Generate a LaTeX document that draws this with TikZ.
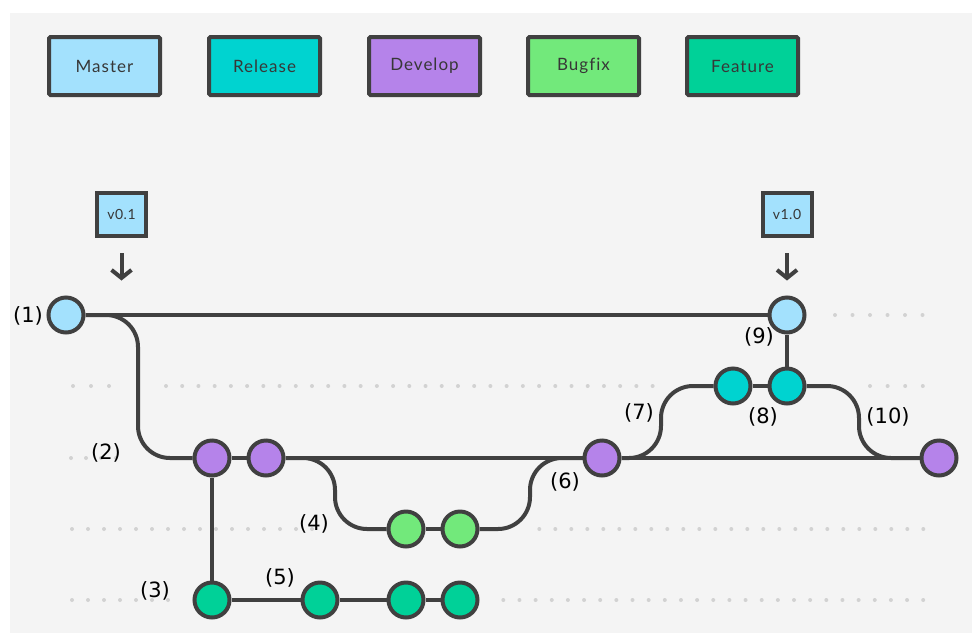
\documentclass[tikz,border=0pt]{standalone}
\usepackage{fontspec}
\usepackage{xcolor}
\usepackage{tikz}
\usetikzlibrary{arrows.meta, positioning}

\newfontfamily\keyfont[LetterSpace=6, Ligatures=NoCommon]{Lato}
\newfontfamily\tagfont[LetterSpace=4]{Lato}
\newfontfamily\lblfont{DejaVu Sans}

\definecolor{bgc}{RGB}{244,244,244}
\definecolor{linec}{RGB}{64,64,64}
\definecolor{keytext}{RGB}{55,55,55}
\definecolor{dotc}{RGB}{210,210,210}
\definecolor{masterc}{RGB}{163,225,253}
\definecolor{releasec}{RGB}{0,211,208}
\definecolor{developc}{RGB}{181,131,234}
\definecolor{bugfixc}{RGB}{114,233,123}
\definecolor{featurec}{RGB}{0,209,152}

\begin{document}
\begin{tikzpicture}[x=1pt, y=-1pt,
    keybox/.style={draw=linec, line width=4pt, rounded corners=1.5pt, minimum width=111pt, minimum height=58pt, inner sep=0pt, outer sep=0pt, text=keytext, font=\keyfont\fontsize{17}{17}\selectfont},
    tagbox/.style={draw=linec, line width=4pt, fill=masterc, minimum width=49pt, minimum height=43pt, inner sep=0pt, text=keytext, font=\tagfont\fontsize{14}{14}\selectfont},
    commit/.style={circle, draw=linec, line width=4pt, minimum size=35pt, inner sep=0pt},
    branch/.style={draw=linec, line width=4pt},
    elbow/.style={branch, rounded corners=32pt},
    tagarrow/.style={draw=linec, line width=4pt, -{Straight Barb[length=8pt, width=20pt]}, shorten <=15pt, shorten >=15pt},
    lbl/.style={inner sep=0pt, font=\lblfont\fontsize{21}{21}\selectfont}]

      % Page and background
      \useasboundingbox (0,0) rectangle (972,633);
      \fill[bgc] (10,13) rectangle (972,633);

      % Dotted guide rows
      \foreach \x in {0,...,5} {
        \fill[dotc] (835+17.5*\x,315) circle (2);
      }
      \foreach \x in {73,91,109} {
        \fill[dotc] (\x,386) circle (2);
      }
      \foreach \x in {0,...,30} {
        \fill[dotc] (166+16.22*\x,386) circle (2);
      }
      \foreach \x in {0,...,3} {
        \fill[dotc] (870+17.6*\x,386) circle (2);
        \fill[dotc] (71+15*\x,458) circle (2);
      }
      \foreach \x in {0,...,15} {
        \fill[dotc] (72+16*\x,529) circle (2);
      }
      \foreach \x in {0,...,24} {
        \fill[dotc] (539.3+16*\x,529) circle (2);
      }
      \foreach \x in {0,...,6} {
        \fill[dotc] (72+16*\x,600) circle (2);
      }
      \foreach \x in {0,...,26} {
        \fill[dotc] (503.3+16.15*\x,600) circle (2);
      }

      % Legend
      \node[keybox, fill=masterc] (kMaster) at (104.5,66) {Master};
      \node[keybox, fill=releasec, right=49pt of kMaster] (kRelease) {Release};
      \node[keybox, fill=developc, right=49pt of kRelease] (kDevelop) {Develop};
      \node[keybox, fill=bugfixc, right=48pt of kDevelop] (kBugfix) {Bugfix};
      \node[keybox, fill=featurec, right=48pt of kBugfix] (kFeature) {Feature};

      % Commits
      \node[commit, fill=masterc] (m1) at (66,315) {};
      \node[commit, fill=masterc] (m2) at (787,315) {};
      \node[commit, fill=releasec] (r1) at (733,386) {};
      \node[commit, fill=releasec] (r2) at (787,386) {};
      \node[commit, fill=developc] (d1) at (212,458) {};
      \node[commit, fill=developc] (d2) at (266,458) {};
      \node[commit, fill=developc] (d3) at (602,458) {};
      \node[commit, fill=developc] (d4) at (939,458) {};
      \node[commit, fill=bugfixc] (b1) at (406,529) {};
      \node[commit, fill=bugfixc] (b2) at (460,529) {};
      \node[commit, fill=featurec] (f1) at (212,600) {};
      \node[commit, fill=featurec] (f2) at (320,600) {};
      \node[commit, fill=featurec] (f3) at (406,600) {};
      \node[commit, fill=featurec] (f4) at (460,600) {};

      % Bends of the branch lines
      \coordinate (kD) at (138,458);
      \coordinate (kB1) at (335,529);
      \coordinate (kB2) at (530,458);
      \coordinate (kR1) at (661,386);
      \coordinate (kR2) at (859,458);

      % Straight branch lines
      \draw[branch] (m1) -- (m2);
      \draw[branch] (r2) -- (m2);
      \draw[branch] (r1) -- (r2);
      \draw[branch] (d1) -- (d2);
      \draw[branch] (d2) -- (d3);
      \draw[branch] (d3) -- (d4);
      \draw[branch] (b1) -- (b2);
      \draw[branch] (d1) -- (f1);
      \draw[branch] (f1) -- (f2) -- (f3) -- (f4);

      % Forks and merges
      \draw[elbow] (m1) -| (kD) -- (d1);
      \draw[elbow] (d2) -| (kB1) -- (b1);
      \draw[elbow] (b2) -| (kB2) -- (d3);
      \draw[elbow] (d3) -| (kR1) -- (r1);
      \draw[elbow] (r2) -| (kR2) -- (d4);

      % Version tags
      \node[tagbox] (t1) at (121.5,214.5) {v0.1};
      \node[tagbox] (t2) at (787,214.5) {v1.0};
      \coordinate (a1) at (121.5,295.5);
      \draw[tagarrow] (t1) -- (a1);
      \draw[tagarrow] (t2) -- (m2);

      % Step numbers
      \node[lbl] (l1) at (28,316) {(1)};
      \node[lbl] (l2) at (106,453) {(2)};
      \node[lbl] (l3) at (155,591) {(3)};
      \node[lbl] (l4) at (314,524) {(4)};
      \node[lbl] (l5) at (280,578) {(5)};
      \node[lbl] (l6) at (565,482) {(6)};
      \node[lbl] (l7) at (639,413) {(7)};
      \node[lbl] (l8) at (763,417) {(8)};
      \node[lbl] (l9) at (759,337) {(9)};
      \node[lbl] (l10) at (888,417) {(10)};

\end{tikzpicture}
\end{document}
